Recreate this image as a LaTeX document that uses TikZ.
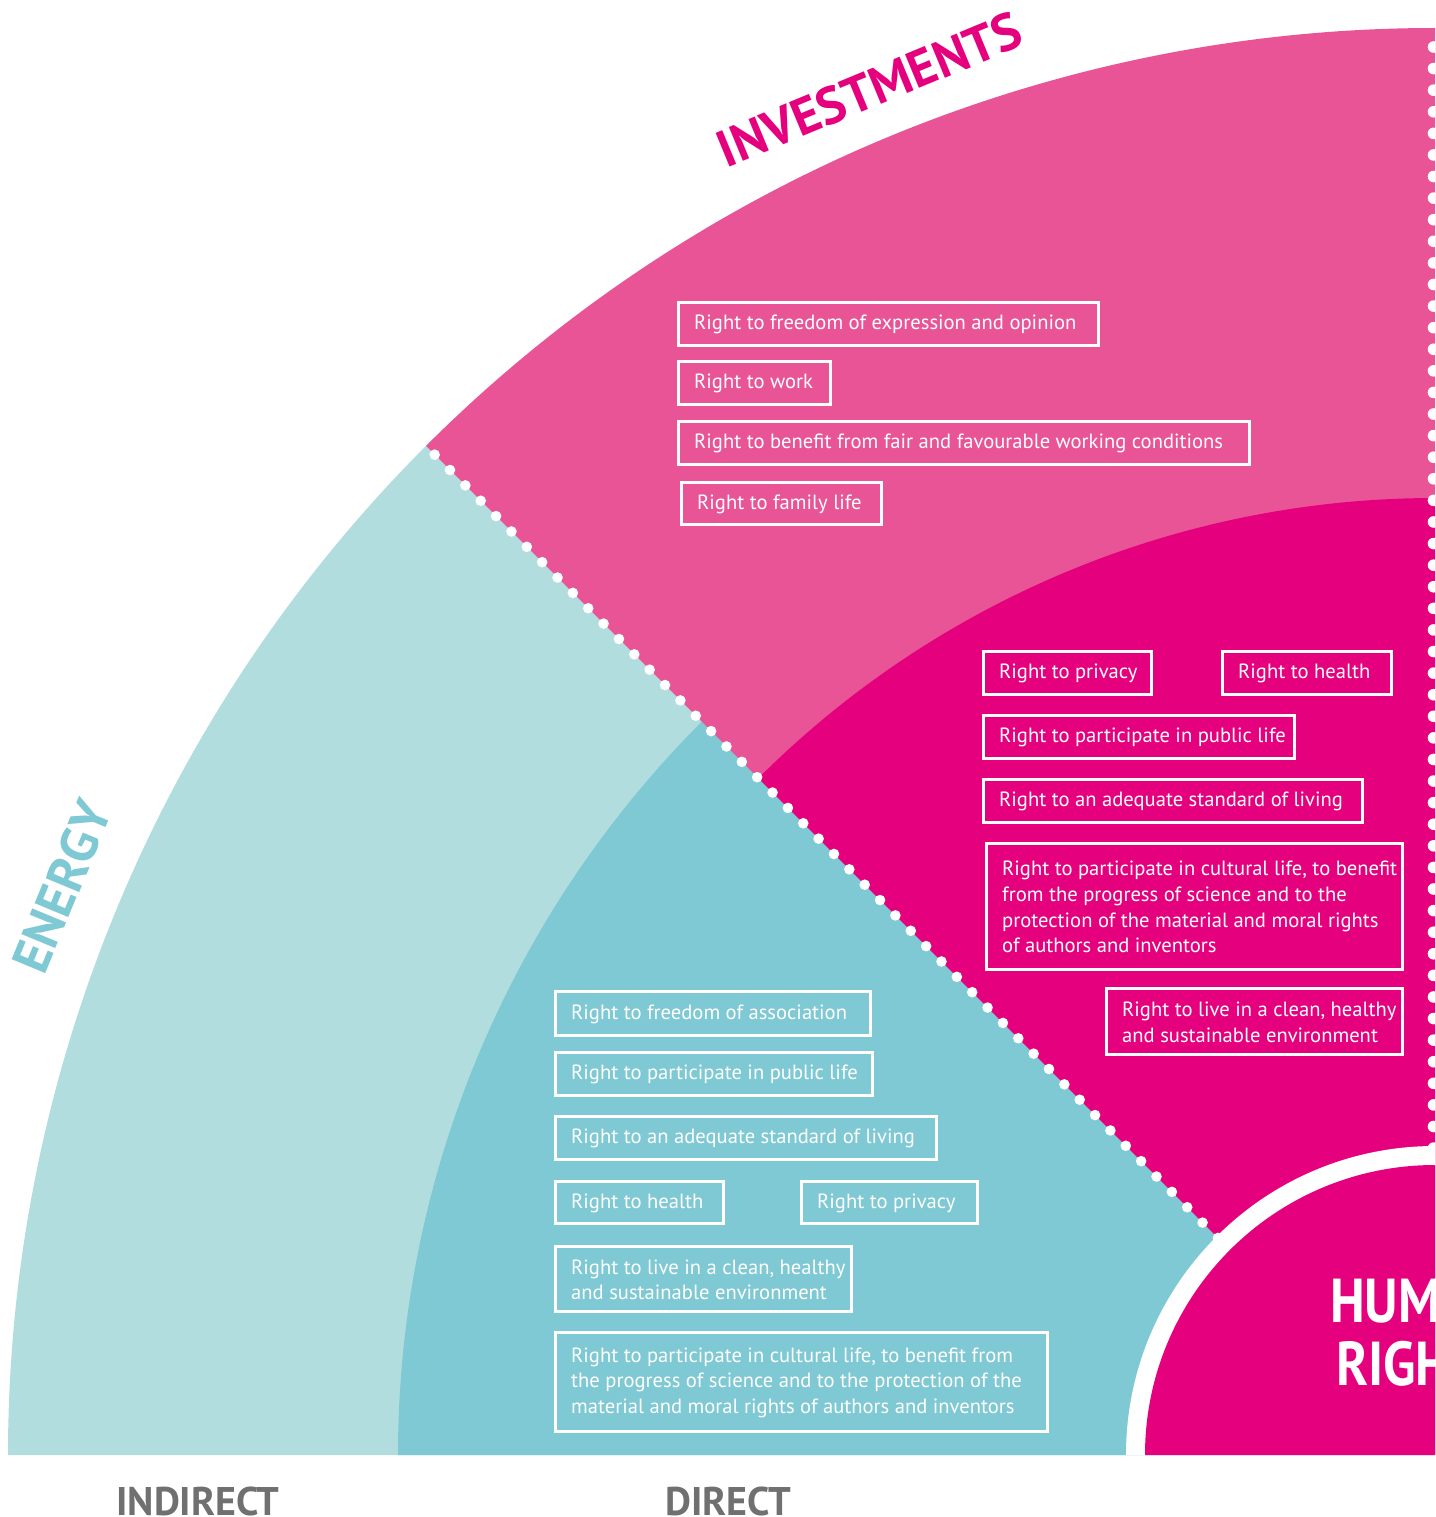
\documentclass[tikz,border=0pt]{standalone}
\usepackage{fontspec}
\setmainfont{PT Sans}
\usetikzlibrary{calc}
\definecolor{lteal}{HTML}{B2DDDF}
\definecolor{dteal}{HTML}{7FC9D4}
\definecolor{lpink}{HTML}{E85496}
\definecolor{mag}{HTML}{E5007E}
\definecolor{greylbl}{HTML}{707070}
\newcommand\boxfont{\fontsize{20.6}{25.7}\selectfont}
\tikzset{
  rbox/.style={draw=white, line width=2.5pt, anchor=north west, inner sep=0pt},
  rtext/.style={anchor=west, align=left, inner sep=0pt, text=white, font=\boxfont},
  biglbl/.style={font=\fontsize{52}{52}\selectfont\bfseries, inner sep=0pt},
  axislbl/.style={font=\fontsize{40}{40}\selectfont\bfseries, text=greylbl, anchor=base, inner sep=0pt},
  hrlbl/.style={font=\fontsize{62}{62}\selectfont\bfseries, text=white, anchor=base west, inner sep=0pt, xscale=0.86}
}
\begin{document}
\begin{tikzpicture}[x=1pt,y=-1pt]
\useasboundingbox (0,0) rectangle (1435,1517);
\clip (0,0) rectangle (1435,1517);
\coordinate (C) at (1435,1455);
% sectors
\fill[lteal] (C) -- ++(180:1427) arc[start angle=180,end angle=225,radius=1427] -- cycle;
\fill[dteal] (C) -- ++(180:1037) arc[start angle=180,end angle=225,radius=1037] -- cycle;
\fill[lpink] (C) -- ++(225:1427) arc[start angle=225,end angle=270,radius=1427] -- cycle;
\fill[mag] (C) -- ++(225:957) arc[start angle=225,end angle=270,radius=957] -- cycle;
% human rights disc
\fill[white] (C) -- ++(180:309) arc[start angle=180,end angle=270,radius=309] -- cycle;
\fill[mag] (C) -- ++(180:290) arc[start angle=180,end angle=270,radius=290] -- cycle;
% dotted separators
\foreach \i in {0,...,51} {
  \fill[white] ($(C)+(225:{1414.7-\i*21.72})$) circle[radius=5.3];
  \fill[white] ($(C)+(270:{1408-\i*21.59})+(-1.5,0)$) circle[radius=5.8];
}
% sector titles
\node[biglbl, text=mag, rotate=22.5] (inv) at ($(C)+(247.5:1478)$) {INVESTMENTS};
\node[biglbl, text=dteal, rotate=67.5] (ene) at ($(C)+(202.5:1486)$) {ENERGY};
% axis labels
\node[axislbl] (ind) at (198,1515) {INDIRECT};
\node[axislbl] (dir) at (728,1515) {DIRECT};
% human rights
\node[hrlbl] (hr1) at (1330,1322) {HUMAN};
\node[hrlbl] (hr2) at (1336,1385) {RIGHTS};
% investments indirect
\node[rbox, minimum width=420pt, minimum height=43pt] (p1) at (677,301) {};
\node[rtext] (p1t) at ([xshift=17pt,yshift=-1pt]p1.west) {Right to freedom of expression and opinion};
\node[rbox, minimum width=152pt, minimum height=43pt] (p2) at (677,360) {};
\node[rtext] (p2t) at ([xshift=17pt,yshift=-1pt]p2.west) {Right to work};
\node[rbox, minimum width=571pt, minimum height=43pt] (p3) at (677,420) {};
\node[rtext] (p3t) at ([xshift=17pt,yshift=-1pt]p3.west) {Right to benefit from fair and favourable working conditions};
\node[rbox, minimum width=200pt, minimum height=42pt] (p4) at (680,481) {};
\node[rtext] (p4t) at ([xshift=17pt,yshift=-1pt]p4.west) {Right to family life};
% investments direct
\node[rbox, minimum width=168pt, minimum height=43pt] (m1) at (982,650) {};
\node[rtext] (m1t) at ([xshift=17pt,yshift=-1pt]m1.west) {Right to privacy};
\node[rbox, minimum width=169pt, minimum height=43pt] (m2) at (1221,650) {};
\node[rtext] (m2t) at ([xshift=17pt,yshift=-1pt]m2.west) {Right to health};
\node[rbox, minimum width=311pt, minimum height=43pt] (m3) at (982,714) {};
\node[rtext] (m3t) at ([xshift=17pt,yshift=-1pt]m3.west) {Right to participate in public life};
\node[rbox, minimum width=379pt, minimum height=43pt] (m4) at (982,778) {};
\node[rtext] (m4t) at ([xshift=17pt,yshift=-1pt]m4.west) {Right to an adequate standard of living};
\node[rbox, minimum width=416pt, minimum height=126pt] (m5) at (985,842) {};
\node[rtext] (m5t) at ([xshift=17pt,yshift=-1pt]m5.west) {Right to participate in cultural life, to benefit\\from the progress of science and to the\\protection of the material and moral rights\\of authors and inventors};
\node[rbox, minimum width=296pt, minimum height=66pt] (m6) at (1105,987) {};
\node[rtext] (m6t) at ([xshift=17pt,yshift=-1pt]m6.west) {Right to live in a clean, healthy\\and sustainable environment};
% energy direct
\node[rbox, minimum width=315pt, minimum height=44pt] (t1) at (554,990) {};
\node[rtext] (t1t) at ([xshift=17pt,yshift=-1pt]t1.west) {Right to freedom of association};
\node[rbox, minimum width=317pt, minimum height=43pt] (t2) at (554,1051) {};
\node[rtext] (t2t) at ([xshift=17pt,yshift=-1pt]t2.west) {Right to participate in public life};
\node[rbox, minimum width=381pt, minimum height=43pt] (t3) at (554,1115) {};
\node[rtext] (t3t) at ([xshift=17pt,yshift=-1pt]t3.west) {Right to an adequate standard of living};
\node[rbox, minimum width=168pt, minimum height=42pt] (t4) at (554,1180) {};
\node[rtext] (t4t) at ([xshift=17pt,yshift=-1pt]t4.west) {Right to health};
\node[rbox, minimum width=176pt, minimum height=42pt] (t5) at (800,1180) {};
\node[rtext] (t5t) at ([xshift=17pt,yshift=-1pt]t5.west) {Right to privacy};
\node[rbox, minimum width=296pt, minimum height=65pt] (t6) at (554,1245) {};
\node[rtext] (t6t) at ([xshift=17pt,yshift=-1pt]t6.west) {Right to live in a clean, healthy\\and sustainable environment};
\node[rbox, minimum width=492pt, minimum height=99pt] (t7) at (554,1331) {};
\node[rtext] (t7t) at ([xshift=17pt,yshift=-1pt]t7.west) {Right to participate in cultural life, to benefit from\\the progress of science and to the protection of the\\material and moral rights of authors and inventors};
\end{tikzpicture}
\end{document}
